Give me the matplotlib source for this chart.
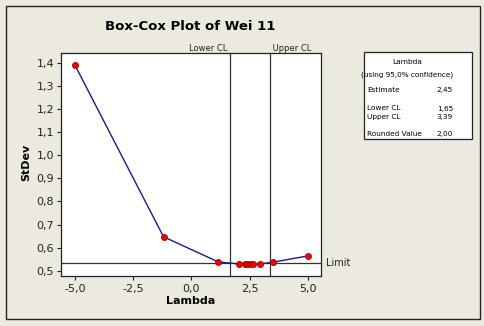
import matplotlib
matplotlib.use("Agg")
import matplotlib.pyplot as plt
from matplotlib.ticker import FuncFormatter
from matplotlib.patches import Rectangle

plt.rcParams['font.family'] = ['DejaVu Sans']

# Data
lambdas = [-5.0, -1.2, 1.15, 2.05, 2.30, 2.40, 2.50, 2.65, 2.95, 3.50, 5.0]
stdevs = [1.39, 0.647, 0.538, 0.529, 0.528, 0.528, 0.528, 0.528, 0.529, 0.537, 0.564]
lower_cl = 1.65
upper_cl = 3.39
limit = 0.532
xticks = [-5.0, -2.5, 0.0, 2.5, 5.0]
yticks = [0.5, 0.6, 0.7, 0.8, 0.9, 1.0, 1.1, 1.2, 1.3, 1.4]
legend_rows = [("Estimate", "2,45"), ("Lower CL", "1,65"), ("Upper CL", "3,39"), ("Rounded Value", "2,00")]

W, H = 484, 326
bg = '#ECE9DE'
fig = plt.figure(figsize=(W / 100, H / 100), dpi=100, facecolor=bg)

def fx(x):
    return x / W

def fy(y):
    return 1 - y / H

# outer frame
fig.patches.append(Rectangle((fx(5.5), fy(318.5)), fx(480) - fx(5.5), fy(5.5) - fy(318.5),
                             transform=fig.transFigure, fill=False, edgecolor='#222222', lw=1.0))

ax = fig.add_axes([fx(61), fy(276), fx(321) - fx(61), fy(53) - fy(276)])
ax.set_facecolor('white')
ax.plot(lambdas, stdevs, color='#1a1a8c', lw=1.0, zorder=3)
ax.plot(lambdas, stdevs, 'o', color='#e01010', ms=4, mec='#c80000', zorder=4)
ax.axvline(lower_cl, color='#333333', lw=0.9, zorder=2)
ax.axvline(upper_cl, color='#333333', lw=0.9, zorder=2)
ax.axhline(limit, color='#333333', lw=0.9, zorder=2)

ax.set_xlim(-5.6, 5.56)
ax.set_ylim(0.477, 1.443)
ax.set_xticks(xticks)
ax.set_yticks(yticks)
comma = FuncFormatter(lambda v, p: f"{v:.1f}".replace('.', ','))
ax.xaxis.set_major_formatter(comma)
ax.yaxis.set_major_formatter(comma)
ax.tick_params(axis='both', labelsize=8, length=3, width=0.8, colors='#222222', pad=2)
ax.tick_params(axis='x', pad=3)
for s in ax.spines.values():
    s.set_color('#222222')
    s.set_linewidth(0.9)

# labels
fig.text(fx(191), fy(301), "Lambda", ha='center', va='center', fontsize=8, fontweight='bold')
fig.text(fx(26), fy(162), "StDev", ha='center', va='center', fontsize=8, fontweight='bold', rotation=90)
fig.text(fx(190), fy(27), "Box-Cox Plot of Wei 11", ha='center', va='center', fontsize=9.5, fontweight='bold')

# CL labels
ax.text(lower_cl, 1.0, "Lower CL ", transform=ax.get_xaxis_transform(), ha='right', va='bottom',
        fontsize=6, color='#222222')
ax.text(upper_cl, 1.0, " Upper CL", transform=ax.get_xaxis_transform(), ha='left', va='bottom',
        fontsize=6, color='#222222')
fig.text(fx(326), fy(263), "Limit", ha='left', va='center', fontsize=7, color='#222222')

# legend box
fig.patches.append(Rectangle((fx(363.5), fy(139)), fx(471.5) - fx(363.5), fy(52.5) - fy(139),
                             transform=fig.transFigure, facecolor='white', edgecolor='#222222', lw=0.9))
fig.text(fx(407), fy(62.5), "Lambda", ha='center', va='center', fontsize=5.3)
fig.text(fx(407.5), fy(74.5), "(using 95,0% confidence)", ha='center', va='center', fontsize=5.2)
ys = [90, 108.5, 117.5, 134.5]
for (name, val), y in zip(legend_rows, ys):
    fig.text(fx(367), fy(y), name, ha='left', va='center', fontsize=5.3)
    fig.text(fx(453), fy(y), val, ha='right', va='center', fontsize=5.3)

fig.savefig("out.png", dpi=100, facecolor=bg)
